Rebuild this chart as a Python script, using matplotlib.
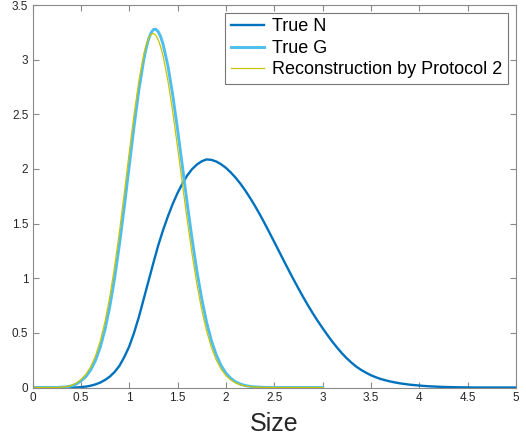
import numpy as np
import matplotlib
matplotlib.use("Agg")
import matplotlib.pyplot as plt

plt.rcParams['font.family'] = ['Liberation Sans', 'DejaVu Sans']

# True N, read on a 0.05 grid from 0 to 5
x_n = [round(0.05 * i, 2) for i in range(101)]
y_n = [0, 0, 0, 0, 0, 0, 0, 0, 0, 0,
       0.004, 0.008, 0.016, 0.028, 0.045, 0.069, 0.10, 0.143, 0.20, 0.28,
       0.375, 0.50, 0.645, 0.81, 0.975, 1.14, 1.30, 1.44, 1.565, 1.68,
       1.78, 1.865, 1.94, 1.998, 2.04, 2.07, 2.087, 2.083, 2.068, 2.043,
       2.01, 1.968, 1.92, 1.865, 1.803, 1.735, 1.662, 1.585, 1.503, 1.418,
       1.332, 1.245, 1.158, 1.072, 0.988, 0.906, 0.826, 0.75, 0.677, 0.608,
       0.543, 0.48, 0.42, 0.365, 0.313, 0.267, 0.226, 0.19, 0.16, 0.135,
       0.112, 0.094, 0.078, 0.066, 0.055, 0.046, 0.038, 0.032, 0.026, 0.022,
       0.018, 0.014, 0.011, 0.009, 0.007, 0.005, 0.004, 0.003, 0.002, 0.0015,
       0.001, 0, 0, 0, 0, 0, 0, 0, 0, 0, 0]

# True G and reconstruction, read from 0 to 3
x_g = ([round(0.05 * i, 2) for i in range(24)]
       + [1.175, 1.2, 1.225, 1.25, 1.275, 1.3, 1.325, 1.35]
       + [round(1.4 + 0.05 * i, 2) for i in range(33)])
y_g = [0, 0, 0, 0, 0, 0, 0.003, 0.006, 0.014, 0.030,
       0.059, 0.098, 0.158, 0.245, 0.367, 0.532, 0.744, 1.007, 1.315, 1.660,
       2.026, 2.389, 2.722, 2.996,
       3.103, 3.186, 3.244, 3.275, 3.278, 3.256, 3.211, 3.142,
       2.943, 2.676,
       2.362, 2.024, 1.683, 1.359, 1.065, 0.811, 0.598, 0.429, 0.299, 0.201,
       0.132, 0.084, 0.052, 0.031, 0.018, 0.010, 0.0056, 0.003, 0.0015, 0,
       0, 0, 0, 0, 0, 0, 0, 0, 0, 0, 0]
y_r = [0, 0, 0, 0, 0, 0, 0.004, 0.008, 0.018, 0.038,
       0.072, 0.118, 0.187, 0.286, 0.423, 0.603, 0.833, 1.111, 1.432, 1.784,
       2.147, 2.496, 2.805, 3.046,
       3.133, 3.195, 3.231, 3.240, 3.223, 3.182, 3.119, 3.035,
       2.809, 2.523,
       2.201, 1.864, 1.532, 1.222, 0.946, 0.711, 0.519, 0.368, 0.253, 0.169,
       0.109, 0.069, 0.042, 0.025, 0.014, 0.008, 0.004, 0.002, 0.001, 0,
       0, 0, 0, 0, 0, 0, 0, 0, 0, 0, 0]

labels = ['True N', 'True G', 'Reconstruction by Protocol 2']
x_ticks = [0, 0.5, 1, 1.5, 2, 2.5, 3, 3.5, 4, 4.5, 5]
x_ticklabels = ['0', '0.5', '1', '1.5', '2', '2.5', '3', '3.5', '4', '4.5', '5']
y_ticks = [0, 0.5, 1, 1.5, 2, 2.5, 3, 3.5]
y_ticklabels = ['0', '0.5', '1', '1.5', '2', '2.5', '3', '3.5']

W, H = 526, 443
fig = plt.figure(figsize=(W / 100, H / 100), dpi=100)
left, right, top, bottom = 32.5, 516, 5, 387.5
ax = fig.add_axes([left / W, 1 - bottom / H, (right - left) / W, (bottom - top) / H])

ax.plot(x_n, y_n, color='#0072BD', lw=1.7, label=labels[0])
ax.plot(x_g, y_g, color='#4DBEEE', lw=2.1, label=labels[1])
ax.plot(x_g, y_r, color='#C9C400', lw=0.9, label=labels[2])

ax.set_xlim(0, 5)
ax.set_ylim(0, 3.5)
ax.set_xticks(x_ticks)
ax.set_xticklabels(x_ticklabels)
ax.set_yticks(y_ticks)
ax.set_yticklabels(y_ticklabels)
ax.tick_params(direction='in', length=4, width=0.8, colors='#8a8a8a',
               labelcolor='#262626', labelsize=8.5, top=True, right=True, pad=3)
for s in ax.spines.values():
    s.set_color('#8a8a8a')
    s.set_linewidth(0.8)

ax.set_xlabel('Size', fontsize=18, color='#262626', labelpad=6)

leg = ax.legend(loc='upper right', bbox_to_anchor=(508 / W, 1 - 13 / H),
                bbox_transform=fig.transFigure, fontsize=13, frameon=True,
                fancybox=False, borderaxespad=0, handlelength=1.85,
                handletextpad=0.45, borderpad=0.3, labelspacing=0.25)
leg.get_frame().set_edgecolor('#555555')
leg.get_frame().set_linewidth(0.8)

fig.savefig('out.png', dpi=100)
